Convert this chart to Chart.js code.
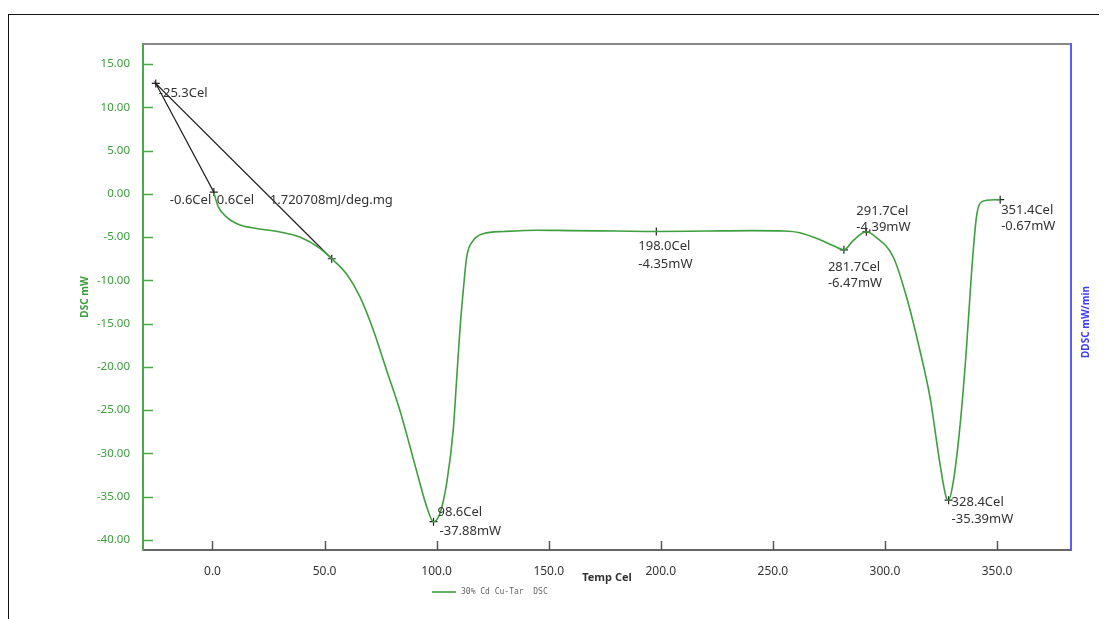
<!DOCTYPE html>
<html>
<head>
<meta charset="utf-8">
<script src="https://cdn.jsdelivr.net/npm/chart.js@4.4.1/dist/chart.umd.min.js"></script>
<style>
  html, body { margin: 0; padding: 0; background: #fff; overflow: hidden; }
  #wrap { position: relative; width: 1108px; height: 619px; }
  #frame { position: absolute; left: 8px; top: 14px; width: 1090px; height: 620px;
           border-top: 1px solid #111; border-left: 1px solid #111; pointer-events: none; }
</style>
</head>
<body>
<div id="wrap">
  <canvas id="dscChart"></canvas>
  <div id="frame"></div>
</div>
<script>
// DSC trace (Temp in Cel, DSC in mW)
const tempC = [0.6, 2.6, 6.3, 12.3, 19.7, 30.1, 39.0, 47.9, 53.2, 59.9, 65.8, 71.7, 77.7, 83.6, 88.1,
  92.5, 95.5, 98.6, 101.5, 104.5, 107.4, 108.9, 110.4, 111.9, 113.4, 116.3, 120.8, 130, 145, 160, 180,
  198, 220, 240, 255, 262, 271, 277, 281.7, 285.8, 291.7, 295.9, 303.7, 309.6, 315.6, 320.1, 324.5,
  327.5, 328.4, 330.4, 333.3, 336.3, 338.6, 340.8, 342.4, 345.3, 351.4];
const dscMW = [0.1, -1.5, -2.7, -3.6, -4.0, -4.4, -5.0, -6.3, -7.5, -9.3, -11.9, -15.7, -20.4, -25.0, -29.2,
  -33.4, -36.1, -37.88, -36.9, -33.4, -27.3, -21.5, -15.7, -11.1, -7.3, -5.4, -4.6, -4.35, -4.2, -4.25, -4.3,
  -4.35, -4.3, -4.25, -4.3, -4.5, -5.3, -6.0, -6.47, -5.4, -4.39, -5.0, -7.3, -11.9, -18.1, -23.5, -31.1,
  -35.2, -35.39, -33.4, -27.3, -18.1, -9.2, -2.7, -1.1, -0.75, -0.67];

// specific heat tangent construction
const tangentTemps = [0.6, -25.3, 53.2];
const tangentMW = [0.2, 12.75, -7.5];
const tangentTexts = ['-0.6Cel', '0.6Cel', '-25.3Cel', '1.720708mJ/deg.mg'];

// peak markers
const peakTemps = [98.6, 198.0, 281.7, 291.7, 328.4, 351.4];
const peakMW = [-37.88, -4.35, -6.47, -4.39, -35.39, -0.67];

const xTicks = [0, 50, 100, 150, 200, 250, 300, 350];
const yTicks = [-40, -35, -30, -25, -20, -15, -10, -5, 0, 5, 10, 15];

const seriesName = '30% Cd Cu-Tar  DSC';

// label offsets from their marker, in px: [dx1, dy1, dx2, dy2]
const peakLabelOffsets = [[4, -9, 6, 10], [-18, 15, -18, 33], [-16, 17, -16, 33],
  [-10, -21, -10, -5], [3, 2, 3, 19], [1, 11, 1, 27]];

const FONT = '"Noto Sans", "Open Sans", sans-serif';
const GREEN = '#3d9f3d';

const decor = {
  id: 'decor',
  afterDraw(chart) {
    const { ctx, chartArea, scales: { x, y } } = chart;
    ctx.save();

    // inward tick marks
    ctx.lineWidth = 1.5;
    ctx.strokeStyle = '#555';
    xTicks.forEach(v => {
      const px = Math.round(x.getPixelForValue(v)) + 0.5;
      ctx.beginPath();
      ctx.moveTo(px, chartArea.bottom);
      ctx.lineTo(px, chartArea.bottom - 9);
      ctx.stroke();
    });
    ctx.strokeStyle = '#4aa84a';
    yTicks.forEach(v => {
      const py = Math.round(y.getPixelForValue(v)) + 0.5;
      ctx.beginPath();
      ctx.moveTo(chartArea.left, py);
      ctx.lineTo(chartArea.left + 10, py);
      ctx.stroke();
    });

    // annotations
    ctx.fillStyle = '#333';
    ctx.font = '13px ' + FONT;
    ctx.textAlign = 'left';
    ctx.textBaseline = 'middle';
    peakTemps.forEach((t, i) => {
      const px = x.getPixelForValue(t);
      const py = y.getPixelForValue(peakMW[i]);
      const o = peakLabelOffsets[i];
      ctx.fillText(t.toFixed(1) + 'Cel', px + o[0], py + o[1]);
      ctx.fillText(peakMW[i].toFixed(2) + 'mW', px + o[2], py + o[3]);
    });
    const p0x = x.getPixelForValue(tangentTemps[0]);
    const p0y = y.getPixelForValue(tangentMW[0]);
    ctx.fillText(tangentTexts[0], p0x - 44, p0y + 8);
    ctx.fillText(tangentTexts[1], p0x + 3, p0y + 8);
    ctx.fillText(tangentTexts[3], p0x + 56, p0y + 8);
    ctx.fillText(tangentTexts[2], x.getPixelForValue(tangentTemps[1]) + 3, y.getPixelForValue(tangentMW[1]) + 10);

    // right axis title, reading upward
    ctx.save();
    ctx.translate(1086, 322);
    ctx.rotate(-Math.PI / 2);
    ctx.textAlign = 'center';
    ctx.fillStyle = '#3b3bff';
    ctx.font = 'bold 10px ' + FONT;
    ctx.fillText('DDSC mW/min', 0, 0);
    ctx.restore();

    // legend
    ctx.strokeStyle = GREEN;
    ctx.lineWidth = 1.6;
    ctx.beginPath();
    ctx.moveTo(432, 592);
    ctx.lineTo(456, 592);
    ctx.stroke();
    ctx.fillStyle = '#666';
    ctx.font = '8px "DejaVu Sans Mono", monospace';
    ctx.fillText(seriesName, 461, 592);

    ctx.restore();
  }
};

const ctx = document.getElementById('dscChart').getContext('2d');

new Chart(ctx, {
  type: 'line',
  data: {
    datasets: [{
      label: seriesName,
      data: tempC.map((t, i) => ({ x: t, y: dscMW[i] })),
      borderColor: GREEN,
      borderWidth: 1.6,
      pointRadius: 0,
      cubicInterpolationMode: 'monotone'
    }, {
      label: 'tangent',
      data: tangentTemps.map((t, i) => ({ x: t, y: tangentMW[i] })),
      borderColor: '#222',
      borderWidth: 1.2,
      pointStyle: 'cross',
      pointRadius: 4,
      pointBorderColor: '#222',
      pointBorderWidth: 1.2,
      tension: 0
    }, {
      label: 'peaks',
      data: peakTemps.map((t, i) => ({ x: t, y: peakMW[i] })),
      showLine: false,
      pointStyle: 'cross',
      pointRadius: 4,
      pointBorderColor: '#222',
      pointBorderWidth: 1.2
    }]
  },
  options: {
    responsive: true,
    maintainAspectRatio: false,
    animation: false,
    layout: { padding: { top: 44, left: 0, right: 0, bottom: 0 } },
    plugins: {
      legend: { display: false },
      tooltip: { enabled: false }
    },
    scales: {
      x: {
        type: 'linear',
        position: 'bottom',
        min: -31,
        max: 383,
        afterBuildTicks: s => { s.ticks = xTicks.map(v => ({ value: v })); },
        afterFit: s => { s.height = 69; },
        grid: { display: false },
        border: { color: '#666', width: 2 },
        ticks: {
          color: '#333',
          padding: 6,
          maxRotation: 0,
          autoSkip: false,
          font: { family: FONT, size: 12 },
          callback: v => v.toFixed(1)
        },
        title: {
          display: true,
          text: 'Temp Cel',
          color: '#333',
          font: { family: FONT, size: 11, weight: 'bold' },
          padding: { top: 0, bottom: 35 }
        }
      },
      xTop: {
        type: 'linear',
        position: 'top',
        min: -31,
        max: 383,
        ticks: { display: false },
        grid: { display: false },
        border: { color: '#888', width: 2 },
        afterFit: s => { s.height = 0; }
      },
      y: {
        position: 'left',
        min: -41.15,
        max: 17.31,
        afterBuildTicks: s => { s.ticks = yTicks.map(v => ({ value: v })); },
        afterFit: s => { s.width = 143; },
        grid: { display: false },
        border: { color: '#4aa84a', width: 2 },
        ticks: {
          color: '#3a9e3a',
          padding: 5,
          autoSkip: false,
          font: { family: FONT, size: 11.5 },
          callback: v => v.toFixed(2)
        },
        title: {
          display: true,
          text: 'DSC mW',
          color: '#3a9e3a',
          font: { family: FONT, size: 10, weight: 'bold' },
          padding: { top: 79, bottom: 0 }
        }
      },
      y2: {
        position: 'right',
        ticks: { display: false },
        grid: { display: false },
        border: { color: '#5b5bff', width: 2 },
        afterFit: s => { s.width = 37; }
      }
    }
  },
  plugins: [decor]
});
</script>
</body>
</html>
